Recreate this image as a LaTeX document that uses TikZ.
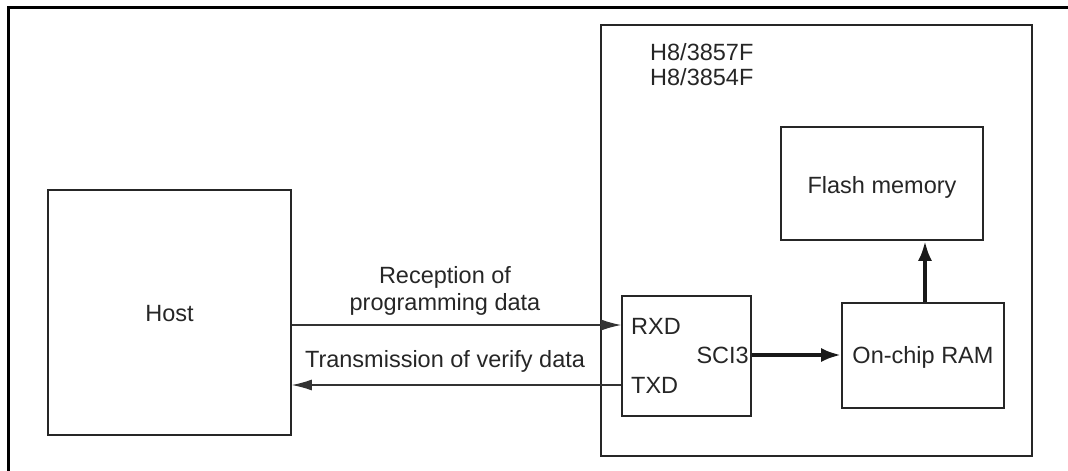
\documentclass[tikz,border=0pt]{standalone}
\usepackage{fontspec}
\setmainfont{Liberation Sans}
\usetikzlibrary{arrows.meta}
\tikzset{
  box/.style={draw=black!85, line width=1.6pt, inner sep=0pt},
  lbl/.style={inner sep=0pt, font=\fontsize{23.5}{27}\selectfont, text=black!85},
  thin arrow/.style={draw=black!80, line width=1.2pt, -{Latex[length=20pt,width=11pt]}},
  thick arrow/.style={draw=black!90, line width=4pt, -{Latex[length=20pt,width=14pt]}},
  frame/.style={draw=black, line width=3pt}
}
\begin{document}
\begin{tikzpicture}[x=1pt,y=-1pt]
\useasboundingbox (0,0) rectangle (1068,471);
% outer frame (open right and bottom)
\coordinate (f1) at (1068,7.5);
\coordinate (f2) at (8,7.5);
\coordinate (f3) at (8,471);
\draw[frame] (f1) -- (f2) -- (f3);
% boxes
\node[box, minimum width=243pt, minimum height=245pt] (host) at (169.5,312.5) {};
\node[box, minimum width=431pt, minimum height=431pt] (chip) at (816.5,240.5) {};
\node[box, minimum width=129pt, minimum height=120pt] (sci) at (686.5,356) {};
\node[box, minimum width=162pt, minimum height=105pt] (ram) at (923,355.5) {};
\node[box, minimum width=202pt, minimum height=113pt] (flash) at (882,183.5) {};
% texts
\node[lbl, anchor=base] (hosttxt) at (169.5,321) {Host};
\node[lbl, anchor=base west] (chip1) at (650,60) {H8/3857F};
\node[lbl, anchor=base west] (chip2) at (650,85) {H8/3854F};
\node[lbl, anchor=base] (flashtxt) at (882,193) {Flash memory};
\node[lbl, anchor=base] (ramtxt) at (923,363) {On-chip RAM};
\node[lbl, anchor=base west] (rxd) at (631,334) {RXD};
\node[lbl, anchor=base west] (txd) at (631,393) {TXD};
\node[lbl, anchor=base east] (sci3) at (749,363) {SCI3};
\node[lbl, anchor=base] (rec1) at (445,283) {Reception of};
\node[lbl, anchor=base] (rec2) at (445,310) {programming data};
\node[lbl, anchor=base] (trans) at (445,367) {Transmission of verify data};
% connectors
\coordinate (yr) at (0,325);
\coordinate (yt) at (0,385);
\coordinate (ys) at (0,355);
\coordinate (xf) at (925,0);
\draw[thin arrow] (host.east |- yr) -- (sci.west |- yr);
\draw[thin arrow] (sci.west |- yt) -- (host.east |- yt);
\draw[thick arrow] (sci.east |- ys) -- (ram.west |- ys);
\draw[thick arrow] (ram.north -| xf) -- (flash.south -| xf);
\end{tikzpicture}
\end{document}
